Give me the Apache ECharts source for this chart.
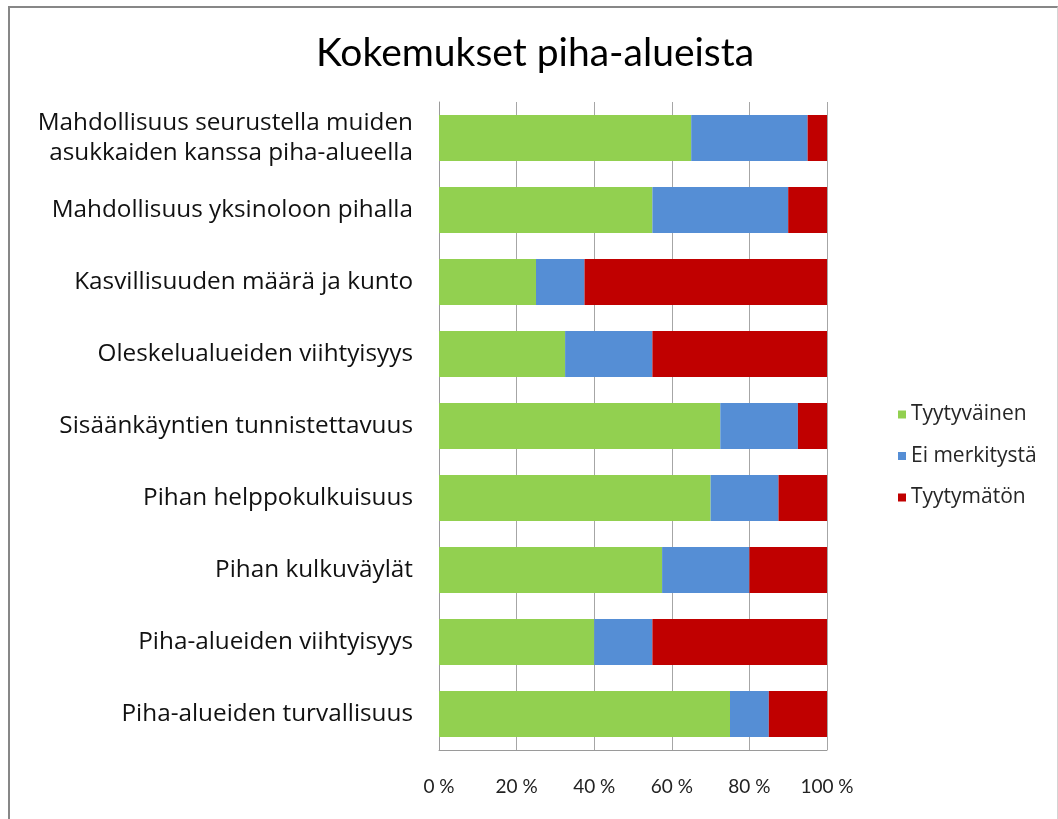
<!DOCTYPE html>
<html><head><meta charset="utf-8">
<script src="https://cdn.jsdelivr.net/npm/echarts@6/dist/echarts.min.js"></script>
<style>
html,body{margin:0;padding:0;background:#fff;}
#frame{position:absolute;left:8px;top:6px;width:1047px;height:830px;border-left:2px solid #878787;border-top:2px solid #878787;border-right:1px solid #d4d4d4;}
#c{position:absolute;left:0;top:0;width:1058px;height:819px;}
</style></head>
<body>
<div id="frame"></div>
<div id="c"></div>
<script>
const title = 'Kokemukset piha-alueista';
const categories = [
  'Mahdollisuus seurustella muiden\nasukkaiden kanssa piha-alueella',
  'Mahdollisuus yksinoloon pihalla',
  'Kasvillisuuden määrä ja kunto',
  'Oleskelualueiden viihtyisyys',
  'Sisäänkäyntien tunnistettavuus',
  'Pihan helppokulkuisuus',
  'Pihan kulkuväylät',
  'Piha-alueiden viihtyisyys',
  'Piha-alueiden turvallisuus'
];
const seriesNames = ['Tyytyväinen', 'Ei merkitystä', 'Tyytymätön'];
const tyytyvainen = [65, 55, 25, 32.5, 72.5, 70, 57.5, 40, 75];
const eiMerkitysta = [30, 35, 12.5, 22.5, 20, 17.5, 22.5, 15, 10];
const tyytymaton = [5, 10, 62.5, 45, 7.5, 12.5, 20, 45, 15];
const xTicks = [0, 20, 40, 60, 80, 100];
const colors = ['#92D050', '#558ED5', '#C00000'];

const cats = categories.slice().reverse();
const data = [tyytyvainen, eiMerkitysta, tyytymaton].map(a => a.slice().reverse());

const chart = echarts.init(document.getElementById('c'), null, {renderer: 'canvas'});
chart.setOption({
  animation: false,
  title: {
    text: title, left: 311, top: 29,
    textStyle: {fontFamily: 'Lato', fontWeight: 'normal', fontSize: 39, color: '#000'}
  },
  legend: {
    orient: 'vertical', left: 893, top: 399, itemWidth: 8, itemHeight: 8, itemGap: 20.5,
    icon: 'rect',
    textStyle: {fontFamily: 'Open Sans', fontSize: 21, color: '#262626', padding: [0, 0, 0, 0]},
    data: seriesNames
  },
  grid: {left: 439, right: 231, top: 102, bottom: 69, containLabel: false},
  xAxis: {
    type: 'value', min: 0, max: 100, interval: 20,
    axisLine: {show: true, lineStyle: {color: '#9a9a9a', width: 1}},
    axisTick: {show: false},
    splitLine: {show: true, lineStyle: {color: '#a6a6a6', width: 1}},
    axisLabel: {
      margin: 27, fontFamily: 'Lato', fontSize: 19, color: '#222',
      formatter: v => xTicks.includes(v) ? v + ' %' : ''
    }
  },
  yAxis: {
    type: 'category', data: cats,
    axisLine: {show: true, lineStyle: {color: '#9a9a9a', width: 1}},
    axisTick: {show: false},
    axisLabel: {margin: 26, fontFamily: 'Open Sans', fontSize: 24.3, color: '#111', lineHeight: 30, align: 'right'}
  },
  series: seriesNames.map((n, i) => ({
    name: n, type: 'bar', stack: 'all', data: data[i], barWidth: 46,
    itemStyle: {color: colors[i]}
  }))
});
</script>
</body></html>
